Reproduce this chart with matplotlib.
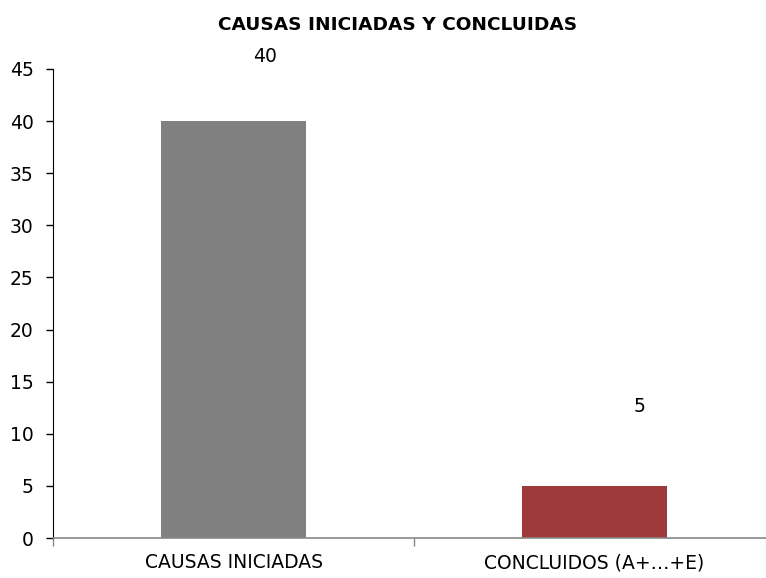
import matplotlib
matplotlib.use("Agg")
import matplotlib.pyplot as plt

# data
categorias = ["CAUSAS INICIADAS", "CONCLUIDOS (A+…+E)"]
valores = [40, 5]
colores = ["#808080", "#9E3B3A"]
yticks = list(range(0, 50, 5))

plt.rcParams['font.family'] = ['DejaVu Sans']

fig = plt.figure(figsize=(7.66, 5.78), dpi=100)
ax = fig.add_axes([53 / 766, 40 / 578, 722 / 766, 469 / 578])

x = list(range(len(categorias)))
bars = ax.bar(x, valores, width=0.4, color=colores)

# value labels floating above and right of the bars (pixel offsets)
offsets = [(31, 65), (45, 79)]
for b, v, (dx, dy) in zip(bars, valores, offsets):
    ax.annotate(str(v), (b.get_x() + b.get_width() / 2, v),
                xytext=(dx * 0.72, dy * 0.72), textcoords="offset points",
                ha="center", va="center", fontsize=13.5, annotation_clip=False)

ax.set_xlim(-0.5, 1.5)
ax.set_ylim(0, 45)
ax.set_yticks(yticks)
ax.tick_params(axis="y", labelsize=13.5, length=5, width=1, direction="out", pad=9)

ax.set_xticks([-0.5, 0.5, 1.5])
ax.set_xticklabels([])
ax.set_xticks(x, minor=True)
ax.set_xticklabels(categorias, minor=True, fontsize=13.5)
ax.tick_params(axis="x", which="minor", length=0, pad=11)
ax.tick_params(axis="x", which="major", length=6, color="#888888", width=1)

for s in ["top", "right"]:
    ax.spines[s].set_visible(False)
ax.spines["left"].set_color("black")
ax.spines["bottom"].set_color("#888888")
ax.spines["bottom"].set_linewidth(1.2)

fig.text(398 / 766, 1 - 25 / 578, "CAUSAS INICIADAS Y CONCLUIDAS", ha="center",
         va="center", fontsize=13.3, fontweight="bold")

fig.savefig("out.png", dpi=100)
